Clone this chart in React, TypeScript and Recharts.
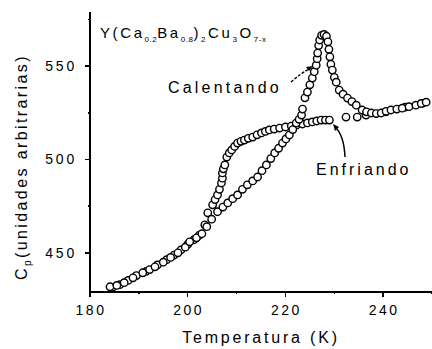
import { ScatterChart, Scatter, XAxis, YAxis } from "recharts"

const heatingT = [
  184.1, 185.5, 187.0, 188.8, 190.8, 192.2, 193.3, 195.0, 196.5, 198.0, 199.5, 200.4, 201.8, 202.9,
  203.9, 204.9, 206.1, 207.2, 208.2, 209.2, 210.2, 211.2, 212.2, 213.3, 214.3, 215.2, 216.1, 217.0,
  217.8, 218.6, 219.4, 220.1, 220.8, 221.5, 222.2, 222.8, 223.3, 223.5, 224.0, 224.5, 225.0, 225.5,
  225.9, 226.3, 226.5, 226.6, 226.8, 227.0, 227.4, 227.9, 228.4, 228.7, 228.9, 229.1, 229.3, 229.6,
  230.0, 230.4, 231.0, 231.8, 232.7, 233.6, 234.5, 235.7, 236.6, 237.6, 238.6, 239.6, 240.6, 241.6,
  242.8, 243.9, 245.3, 246.7, 247.8, 248.8,
]
const heatingCp = [
  431.8, 432.5, 434.0, 436.6, 439.3, 441.0, 442.5, 445.0, 447.5, 450.0, 453.0, 455.9, 458.0, 460.2,
  464.0, 468.0, 472.0, 474.5, 476.7, 479.0, 481.0, 484.0, 486.4, 488.5, 490.6, 494.0, 497.1, 500.5,
  503.5, 506.0, 508.8, 511.0, 513.1, 516.0, 519.5, 521.5, 523.8, 527.0, 533.0, 536.1, 540.0, 543.6,
  547.0, 550.5, 554.0, 557.0, 561.0, 564.0, 566.5, 567.0, 566.0, 563.0, 559.0, 555.0, 551.0, 547.9,
  544.0, 541.4, 537.2, 535.0, 532.9, 531.0, 529.1, 526.5, 525.5, 524.9, 524.6, 524.9, 525.8, 526.5,
  527.0, 527.5, 528.3, 529.1, 530.0, 530.7,
]

const coolingT = [
  184.6, 186.1, 187.8, 189.5, 191.5, 193.8, 195.7, 197.2, 198.6, 200.0, 201.3, 202.4, 203.5, 204.1,
  205.1, 205.6, 206.1, 206.5, 206.9, 207.1, 207.1, 207.3, 207.6, 208.0, 208.5, 209.0, 209.6, 210.2,
  210.9, 211.6, 212.4, 213.3, 214.2, 215.1, 215.9, 216.7, 217.7, 218.8, 220.0, 221.2, 222.3, 223.5,
  224.5, 225.5, 226.4, 227.3, 228.2, 229.0, 232.4, 234.7, 236.5, 240.5, 244.5, 248.0,
]
const coolingCp = [
  431.5, 432.9, 435.2, 437.8, 440.0, 443.5, 446.3, 448.8, 451.5, 454.5, 457.0, 459.5, 465.0, 471.4,
  475.7, 478.5, 481.0, 484.0, 487.4, 490.0, 492.8, 495.0, 497.1, 501.3, 503.5, 505.1, 507.0, 508.8,
  509.7, 510.4, 511.3, 512.0, 513.2, 514.2, 515.0, 515.8, 516.3, 516.8, 517.4, 517.9, 518.5, 519.0,
  519.6, 520.1, 520.6, 521.1, 521.1, 521.1, 522.7, 522.7, 523.8, 525.5, 528.0, 530.0,
]

const xTicks = [180, 190, 200, 210, 220, 230, 240, 250]
const yTicks = [450, 475, 500, 525, 550, 575]

const heating = heatingT.map((t, i) => ({ t, cp: heatingCp[i] }))
const cooling = coolingT.map((t, i) => ({ t, cp: coolingCp[i] }))

const font = "'Liberation Sans', Arial, sans-serif"
const axisStyle = { stroke: "#000", strokeWidth: 2, shapeRendering: "crispEdges" }

function Marker(props: any) {
  const { cx, cy } = props
  if (cx == null || cy == null) return null
  return <circle cx={cx} cy={cy} r={3.7} fill="#fff" stroke="#000" strokeWidth={1.4} />
}

function XTick(props: any) {
  const { x, y, payload } = props
  const major = payload.value % 20 === 0
  return (
    <g>
      <line x1={x} x2={x} y1={y} y2={y + (major ? 5 : 2)} stroke="#000" strokeWidth={1.5} shapeRendering="crispEdges" />
      {major && payload.value < 250 && (
        <text x={x + 1} y={y + 23} textAnchor="middle" fontSize={14} fontFamily={font} letterSpacing={2.5} fill="#000">
          {payload.value}
        </text>
      )}
    </g>
  )
}

function YTick(props: any) {
  const { x, y, payload } = props
  const major = payload.value % 50 === 0
  return (
    <g>
      <line x1={x - (major ? 5 : 2)} x2={x} y1={y} y2={y} stroke="#000" strokeWidth={1.5} shapeRendering="crispEdges" />
      {major && (
        <text x={x - 13} y={y + 5} textAnchor="end" fontSize={14} fontFamily={font} letterSpacing={2.8} fill="#000">
          {payload.value}
        </text>
      )}
    </g>
  )
}

export default function App() {
  return (
    <div style={{ position: "absolute", left: 0, top: 0, width: 432, height: 349, background: "#fff" }}>
      <ScatterChart width={432} height={349} margin={{ top: 12, right: 0, bottom: 27, left: 0 }}>
        <XAxis
          xAxisId="bottom"
          type="number"
          dataKey="t"
          domain={[180, 250]}
          ticks={xTicks}
          interval={0}
          height={30}
          tickSize={0}
          tickMargin={0}
          tick={<XTick />}
          axisLine={axisStyle}
          allowDataOverflow
        />
        <XAxis
          xAxisId="top"
          orientation="top"
          type="number"
          dataKey="t"
          domain={[180, 250]}
          height={0}
          tick={false}
          tickLine={false}
          axisLine={axisStyle}
        />
        <YAxis
          type="number"
          dataKey="cp"
          domain={[429, 579]}
          ticks={yTicks}
          interval={0}
          width={90}
          tickSize={0}
          tickMargin={0}
          tick={<YTick />}
          axisLine={axisStyle}
          allowDataOverflow
        />
        <Scatter xAxisId="bottom" data={cooling} shape={<Marker />} isAnimationActive={false} />
        <Scatter xAxisId="bottom" data={heating} shape={<Marker />} isAnimationActive={false} />
      </ScatterChart>
      <svg width={432} height={349} style={{ position: "absolute", left: 0, top: 0, pointerEvents: "none" }}>
        <text x={100} y={38} fontSize={15} fontFamily={font} letterSpacing={2.6} fill="#000">
          Y(Ca
          <tspan fontSize={8} dy={4} letterSpacing={0.5}>0.2</tspan>
          <tspan dy={-4}>Ba</tspan>
          <tspan fontSize={8} dy={4} letterSpacing={0.5}>0.8</tspan>
          <tspan dy={-4}>)</tspan>
          <tspan fontSize={8} dy={4}>2</tspan>
          <tspan dy={-4}>Cu</tspan>
          <tspan fontSize={8} dy={4}>3</tspan>
          <tspan dy={-4}>O</tspan>
          <tspan fontSize={8} dy={4} letterSpacing={0.5}>7-x</tspan>
        </text>
        <text x={168} y={93} fontSize={16} fontFamily={font} letterSpacing={3.2} fill="#000">
          Calentando
        </text>
        <path d="M291 82 Q300 74 309 69" fill="none" stroke="#000" strokeWidth={1.3} strokeDasharray="3 1.5" />
        <path d="M313 66 L306 67 L309 71 Z" fill="#000" />
        <text x={316} y={175} fontSize={16} fontFamily={font} letterSpacing={3} fill="#000">
          Enfriando
        </text>
        <path d="M345 157 Q344 136 336 128" fill="none" stroke="#000" strokeWidth={1.5} />
        <path d="M333 124 L339 127 L335 131 Z" fill="#000" />
        <text x={261} y={343} textAnchor="middle" fontSize={16} fontFamily={font} letterSpacing={2.8} fill="#000">
          Temperatura (K)
        </text>
        <text
          transform="translate(27,167) rotate(-90)"
          textAnchor="middle"
          fontSize={16}
          fontFamily={font}
          letterSpacing={2.4}
          fill="#000"
        >
          C<tspan fontSize={10} dy={4}>p</tspan>
          <tspan dy={-4}>(unidades arbitrarias)</tspan>
        </text>
      </svg>
    </div>
  )
}
